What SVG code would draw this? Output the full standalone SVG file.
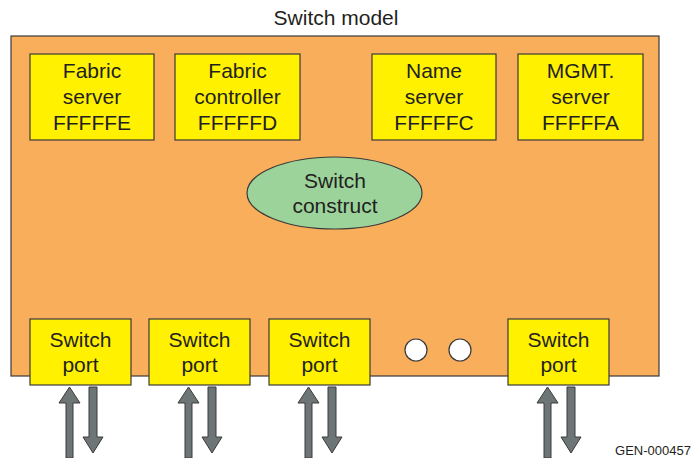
<svg xmlns="http://www.w3.org/2000/svg" width="691" height="458" viewBox="0 0 691 458">
<defs>
<style>
text{font-family:"Liberation Sans",Arial,sans-serif;fill:#231F20;text-anchor:middle}
.t{font-size:21px}
.box{fill:#FFF100;stroke:#3a3a3a;stroke-width:1.2}
.arr{fill:#6D7577;stroke:#3a3a3a;stroke-width:1}
</style>
<g id="up"><polygon class="arr" points="66,458 66,403 59,403 69.5,387 80,403 73,403 73,458"/></g>
<g id="down"><polygon class="arr" points="89,387 97,387 97,437 103,437 93,453 83,437 89,437"/></g>
</defs>
<rect width="691" height="458" fill="#fff"/>
<text class="t" x="336" y="25">Switch model</text>
<g id="switch-model"><rect x="11" y="36" width="648" height="340" fill="#F9AE5C" stroke="#3a3a3a" stroke-width="1.2"/></g>
<g id="fabric-server"><rect class="box" x="30" y="54" width="124" height="86"/><text class="t" x="92" y="78">Fabric</text><text class="t" x="92" y="104">server</text><text class="t" x="92" y="130">FFFFFE</text></g>
<g id="fabric-controller"><rect class="box" x="175" y="54" width="125" height="86"/><text class="t" x="237.5" y="78">Fabric</text><text class="t" x="237.5" y="104">controller</text><text class="t" x="237.5" y="130">FFFFFD</text></g>
<g id="name-server"><rect class="box" x="372" y="54" width="124" height="86"/><text class="t" x="434" y="78">Name</text><text class="t" x="434" y="104">server</text><text class="t" x="434" y="130">FFFFFC</text></g>
<g id="mgmt-server"><rect class="box" x="518" y="54" width="125" height="86"/><text class="t" x="580.5" y="78">MGMT.</text><text class="t" x="580.5" y="104">server</text><text class="t" x="580.5" y="130">FFFFFA</text></g>
<g id="switch-construct"><ellipse cx="334.5" cy="193" rx="87.5" ry="36" fill="#9BD39B" stroke="#3a3a3a" stroke-width="1.2"/><text class="t" x="335" y="188">Switch</text><text class="t" x="335" y="213">construct</text></g>
<g id="port1"><rect class="box" x="30" y="319" width="101" height="66"/><text class="t" x="80.5" y="347">Switch</text><text class="t" x="80.5" y="372">port</text></g>
<g id="port2"><rect class="box" x="149" y="319" width="101" height="66"/><text class="t" x="199.5" y="347">Switch</text><text class="t" x="199.5" y="372">port</text></g>
<g id="port3"><rect class="box" x="269" y="319" width="101" height="66"/><text class="t" x="319.5" y="347">Switch</text><text class="t" x="319.5" y="372">port</text></g>
<g id="port4"><rect class="box" x="508" y="319" width="101" height="66"/><text class="t" x="558.5" y="347">Switch</text><text class="t" x="558.5" y="372">port</text></g>
<g id="dots"><circle cx="416" cy="350" r="11" fill="#fff" stroke="#3a3a3a" stroke-width="1.2"/><circle cx="460" cy="350" r="11" fill="#fff" stroke="#3a3a3a" stroke-width="1.2"/></g>
<g id="connectors">
<use href="#up" x="0"/><use href="#down" x="0"/>
<use href="#up" x="119"/><use href="#down" x="119"/>
<use href="#up" x="239"/><use href="#down" x="239"/>
<use href="#up" x="478"/><use href="#down" x="478"/>
</g>
<text x="653" y="455" font-size="13">GEN-000457</text>
</svg>
